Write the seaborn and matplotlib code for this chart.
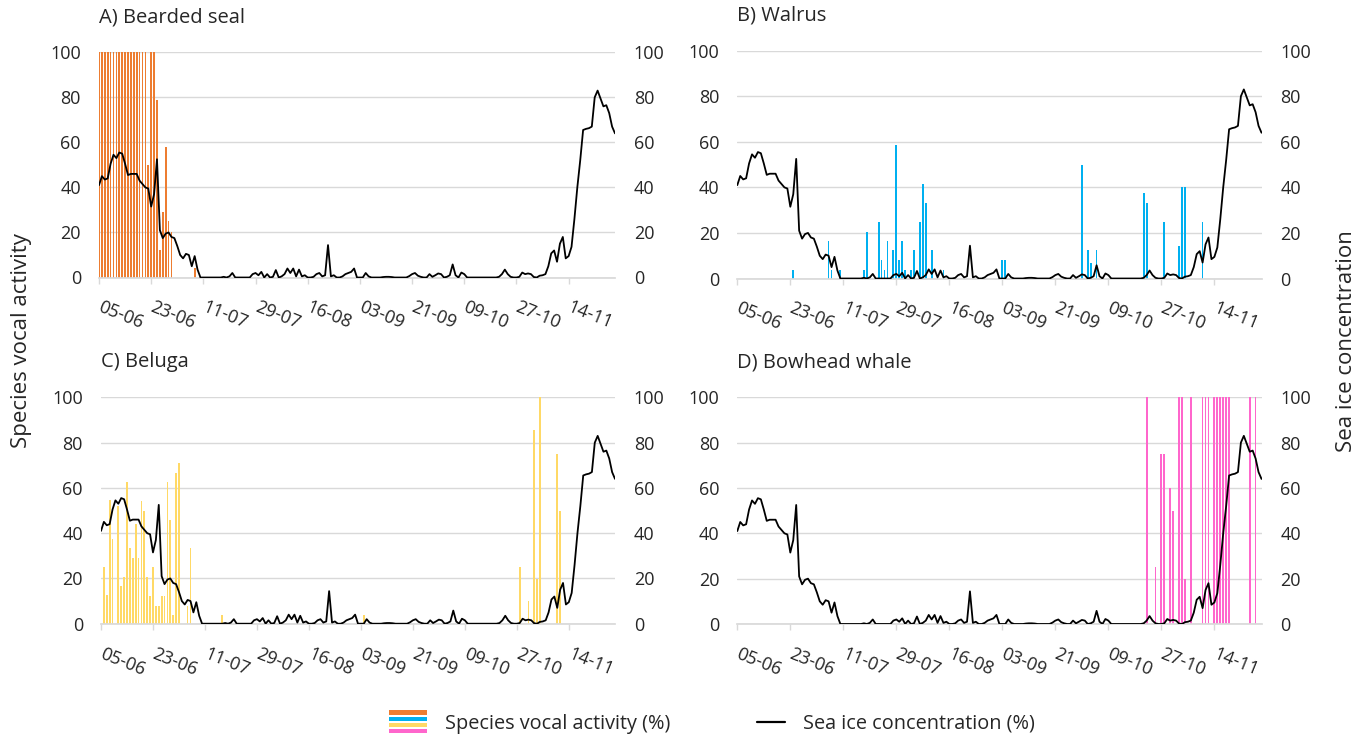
import matplotlib
matplotlib.use("Agg")
import matplotlib.pyplot as plt
from matplotlib.patches import Rectangle
from matplotlib.lines import Line2D
from matplotlib.legend_handler import HandlerBase
import seaborn as sns
import pandas as pd
import numpy as np

# daily data, 05-06 (day 0) to 30-11 (day 178)
tick_days = [0, 18, 36, 54, 72, 90, 108, 126, 144, 162]
tick_labels = ["05-06", "23-06", "11-07", "29-07", "16-08",
               "03-09", "21-09", "09-10", "27-10", "14-11"]

sea_ice = [41, 45, 43.5, 44, 50.5, 54.5, 53, 55.5, 55, 50.5,
           45.5, 46, 46, 46, 43, 41.5, 40, 39.5, 31.5, 37,
           52.5, 21, 17.5, 19.5, 20, 18, 17.5, 14, 10, 8.5,
           10.5, 10, 5, 9.5, 3.5, 0, 0, 0, 0, 0,
           0, 0, 0, 0.3, 0, 0.5, 2, 0, 0, 0,
           0, 0, 0, 1.5, 2, 1, 2.5, 0, 1.5, 0,
           0.3, 3.3, 0, 0.5, 1.5, 4, 2, 4, 0.5, 3.5,
           0.5, 1, 0, 0, 0.3, 1.5, 2, 0.5, 1, 14.4,
           0.5, 1, 0, 0, 0.5, 1.5, 2, 2.5, 4, 0,
           0, 0, 2, 0.5, 0, 0, 0, 0, 0.2, 0.3,
           0.3, 0.2, 0, 0, 0, 0, 0, 0.6, 1.5, 2,
           0.8, 0.3, 0, 0, 1.5, 0.3, 1, 1.8, 1.5, 0,
           0.3, 1, 5.8, 1, 0, 2.2, 1.5, 0, 0, 0,
           0, 0, 0, 0, 0, 0, 0, 0, 0.3, 1.5,
           3.5, 1.5, 0.3, 0, 0, 0.3, 2.2, 1.5, 1.8, 1.5,
           0.2, 0, 0.8, 1, 1.5, 5, 10.7, 12, 7, 15,
           18, 8.5, 9.5, 13.6, 26, 40, 52, 65.5, 66, 66.3,
           67, 80, 83, 79.5, 76, 76.5, 73, 67, 64]

seal_days = list(range(0, 26)) + [33]
seal_vals = [100] * 17 + [50, 100, 100, 79, 12, 29, 58, 25, 20, 4]

walrus_days = [19, 31, 32, 35, 43, 44, 48, 49, 50, 51, 53, 54, 55, 56, 57, 59, 60,
               62, 63, 64, 66, 70, 90, 91, 117, 119, 120, 122, 138, 139, 145,
               150, 151, 152, 158]
walrus_vals = [3.7, 16.5, 3.7, 3.7, 3.7, 20.5, 25, 8, 3.7, 16.5, 12.5, 58.5, 8,
               16.5, 3.7, 3.7, 12.5, 25, 41.5, 33.3, 12.5, 3.7, 8, 8, 50, 12.5,
               7, 12.5, 37.5, 33.3, 25, 14.3, 40, 40, 25]

beluga_days = [1, 2, 3, 4] + list(range(6, 28)) + [30, 31, 42, 91,
                                                   145, 148, 150, 151, 152, 158, 159]
beluga_vals = [25, 12.5, 54.5, 37.5, 52, 16.5, 20.7, 62.5, 33.3, 29, 44, 29, 54,
               50, 20.7, 12.4, 25, 8, 8, 12.4, 12.4, 62.5, 46, 4, 66.7, 70.8,
               8, 33.3, 4, 4, 25, 10, 85.6, 19.7, 100, 75, 50]

bowhead_days = [139, 142, 144, 145, 147, 148, 150, 151, 152, 154, 158, 159, 160,
                162, 163, 164, 165, 166, 167, 174, 176]
bowhead_vals = [100, 25, 75, 75, 60, 50, 100, 100, 20, 100, 100, 100, 100,
                100, 100, 100, 100, 100, 100, 100, 100]

panels = [
    ("A) Bearded seal", seal_days, seal_vals, "#ED7D31"),
    ("B) Walrus", walrus_days, walrus_vals, "#00B0F0"),
    ("C) Beluga", beluga_days, beluga_vals, "#FFD966"),
    ("D) Bowhead whale", bowhead_days, bowhead_vals, "#FF66CC"),
]

sns.set_theme(style="white")
plt.rcParams["font.family"] = ["Open Sans", "DejaVu Sans"]
TXT = "#262626"
GRID = "#D9D9D9"

W, H = 1357, 736
fig = plt.figure(figsize=(W / 100, H / 100), dpi=100)


def px_box(l, t, r, b):
    return [l / W, 1 - b / H, (r - l) / W, (b - t) / H]


boxes = [(99, 52.3, 615, 277.5), (737.3, 50.7, 1261.5, 278.5),
         (101, 397.4, 615, 623.7), (737.3, 397.3, 1261.5, 624)]

day_index = np.arange(len(sea_ice))

for (title, d, v, col), box in zip(panels, boxes):
    ax = fig.add_axes(px_box(*box))
    act = pd.Series(v, index=d).reindex(day_index, fill_value=0)
    sns.barplot(x=day_index, y=act.values, native_scale=True, width=0.6,
                color=col, saturation=1, linewidth=0, errorbar=None, ax=ax)
    ax2 = ax.twinx()
    sns.lineplot(x=day_index, y=sea_ice, color="black", linewidth=1.3, ax=ax2)

    for a in (ax, ax2):
        a.set_ylim(0, 100)
        a.set_yticks(range(0, 101, 20))
        a.set_xlim(0, 178)
        a.set_xlabel("")
        a.set_ylabel("")
        for s in a.spines.values():
            s.set_visible(False)
    ax.set_axisbelow(True)
    ax.yaxis.grid(True, color=GRID, linewidth=1)
    ax.spines["bottom"].set_visible(True)
    ax.spines["bottom"].set_color(GRID)
    ax.tick_params(axis="y", length=0, pad=13, labelsize=13, labelcolor=TXT)
    ax2.tick_params(axis="y", length=0, pad=13.5, labelsize=13, labelcolor=TXT)
    ax.set_xticks(tick_days)
    ax.set_xticklabels(tick_labels, rotation=-22, ha="left", va="center",
                       rotation_mode="anchor")
    ax.tick_params(axis="x", bottom=True, length=4, width=1, color=GRID,
                   direction="out", pad=17, labelsize=13, labelcolor=TXT)
    fig.text(box[0] / W, 1 - (box[1] - 35) / H, title, fontsize=14.5,
             color=TXT, ha="left", va="center")

fig.text(22 / W, 1 - 341 / H, "Species vocal activity", rotation=90,
         fontsize=16, color=TXT, ha="center", va="center")
fig.text(1347 / W, 1 - 341 / H, "Sea ice concentration", rotation=90,
         fontsize=16, color=TXT, ha="center", va="center")


class Stripes:
    def __init__(self, colors):
        self.colors = colors


class StripeHandler(HandlerBase):
    def create_artists(self, legend, orig_handle, xdescent, ydescent,
                       width, height, fontsize, trans):
        n = len(orig_handle.colors)
        gap = height * 0.08
        h = (height - gap * (n - 1)) / n
        arts = []
        for i, c in enumerate(orig_handle.colors):
            y = -ydescent + height - (i + 1) * h - i * gap
            arts.append(Rectangle((-xdescent, y), width, h, facecolor=c,
                                  edgecolor="none", transform=trans))
        return arts


class ShortLineHandler(HandlerBase):
    def create_artists(self, legend, orig_handle, xdescent, ydescent,
                       width, height, fontsize, trans):
        y = -ydescent + height / 2
        ln = Line2D([-xdescent + width * 0.25, -xdescent + width], [y, y],
                    color="black", linewidth=1.6, transform=trans)
        return [ln]


handles = [Stripes([p[3] for p in panels]),
           Line2D([], [], color="black", linewidth=1.6)]
fig.legend(handles, ["Species vocal activity (%)", "Sea ice concentration (%)"],
           handler_map={Stripes: StripeHandler(), Line2D: ShortLineHandler()},
           loc="center", bbox_to_anchor=(712 / W, 1 - 722 / H), ncol=2,
           frameon=False, fontsize=14.3, handlelength=1.9, handleheight=1.4,
           handletextpad=0.9, columnspacing=3.9, labelcolor=TXT)

fig.savefig("out.png", dpi=100)
